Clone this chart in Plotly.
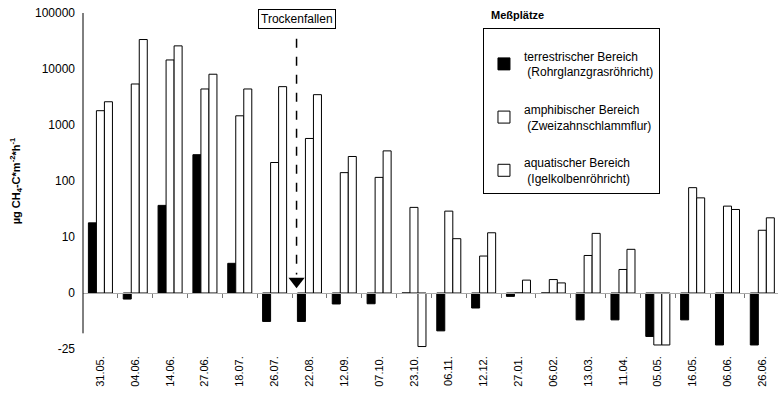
import math
import plotly.graph_objects as go

# ---------------- data ----------------
dates = ["31.05.", "04.06.", "14.06.", "27.06.", "18.07.", "26.07.", "22.08.", "12.09.",
         "07.10.", "23.10.", "06.11.", "12.12.", "27.01.", "06.02.", "13.03.", "11.04.",
         "05.05.", "16.05.", "06.06.", "26.06."]

terrestrisch = [17.9, -2.7, 36.7, 295, 5.3, -12.7, -12.7, -4.9, -4.8, 0, -16.9, -6.7,
                -1.5, 0, -12, -12, -19.4, -12, -23.2, -23.2]
amphibisch = [1800, 5400, 14500, 4400, 1460, 214, 575, 141, 116, 33.8, 29, 6.6,
              0, 2.4, 6.7, 4.2, -23.2, 76, 35.6, 13.2]
aquatisch = [2600, 33600, 25900, 8070, 4400, 4840, 3480, 274, 345, -23.9, 9.7, 11.9,
             2.3, 1.8, 11.6, 7.8, -23.2, 50, 31, 22]

series_names = ["terrestrischer Bereich<br> (Rohrglanzgrasröhricht)",
                "amphibischer Bereich<br> (Zweizahnschlammflur)",
                "aquatischer Bereich<br> (Igelkolbenröhricht)"]
series_fill = ["black", "white", "white"]

tick_values = [-25, 0, 10, 100, 1000, 10000, 100000]
tick_labels = ["-25", "0", "10", "100", "1000", "10000", "100000"]

dry_fall_pos = 5.63          # "Trockenfallen" between 26.07. and 22.08.
dry_fall_label = "Trockenfallen"


# axis transform used in the original: log above 10, linear 0..10, linear 0..-25
def tf(v):
    if v >= 10:
        return math.log10(v)
    if v >= 0:
        return v / 10.0
    return v / 25.0


FONT = "Arial, Liberation Sans, sans-serif"
xs = list(range(len(dates)))

fig = go.Figure()
for name, vals, fill in zip(series_names, [terrestrisch, amphibisch, aquatisch], series_fill):
    fig.add_trace(go.Bar(
        x=xs, y=[tf(v) for v in vals], name=name, legendgroup=name,
        marker=dict(color=fill, line=dict(color="black", width=1)),
        hoverinfo="skip",
    ))

# arrowhead of the drying marker (on the zero-line axis)
fig.add_trace(go.Scatter(
    x=[dry_fall_pos], y=[0.21], xaxis="x2", mode="markers",
    marker=dict(symbol="triangle-down", size=14, color="black"),
    showlegend=False, hoverinfo="skip",
))

fig.update_layout(
    width=778, height=393,
    margin=dict(l=83, r=0, t=13, b=44),
    paper_bgcolor="white", plot_bgcolor="white",
    font=dict(family=FONT, size=11, color="black"),
    barmode="group", bargap=0.31, bargroupgap=0,
    xaxis=dict(
        range=[-0.5, 19.45], tickmode="array", tickvals=xs, ticktext=dates,
        tickangle=-90, showgrid=False, zeroline=False, showline=False, ticks="",
        tickfont=dict(size=11), ticklabelstandoff=4,
    ),
    xaxis2=dict(
        matches="x", overlaying="x", anchor="free", position=1 / 6,
        showline=True, linecolor="#aaaaaa", linewidth=1,
        tickmode="array", tickvals=[i + 0.5 for i in xs[:-1]], ticks="outside",
        ticklen=4, tickcolor="#777777", showticklabels=False, showgrid=False,
        zeroline=False,
    ),
    yaxis=dict(
        range=[-1, 5], tickmode="array", tickvals=[tf(v) for v in tick_values],
        ticktext=tick_labels, showgrid=False, zeroline=False, showline=False,
        ticks="", tickfont=dict(size=12), ticklabelstandoff=7,
        title=dict(text="<b>µg CH<sub>4</sub>-C*m<sup>-2</sup>*h<sup>-1</sup></b>",
                   font=dict(size=11), standoff=12),
    ),
    legend=dict(
        x=0.5755, y=0.956, xanchor="left", yanchor="top",
        bordercolor="black", borderwidth=1, bgcolor="white",
        font=dict(size=12), tracegroupgap=19, traceorder="grouped",
        itemwidth=30, title=dict(text=" ", font=dict(size=10)),
    ),
    showlegend=True,
)

# y axis line (ends above the -25 label as in the original)
fig.add_shape(type="line", xref="paper", yref="y", x0=0, x1=0, y0=-0.72, y1=5,
              line=dict(color="black", width=1))
# dashed drying line
fig.add_shape(type="line", xref="x", yref="y", x0=dry_fall_pos, x1=dry_fall_pos,
              y0=4.54, y1=0.33, line=dict(color="black", width=1.5, dash="dash"))

fig.add_annotation(x=dry_fall_pos, y=4.89, xref="x", yref="y", text=dry_fall_label,
                   showarrow=False, bordercolor="black", borderwidth=1, borderpad=2,
                   bgcolor="white", font=dict(size=12))
fig.add_annotation(x=0.584, y=0.995, xref="paper", yref="paper", xanchor="left",
                   yanchor="middle", text="<b>Meßplätze</b>", showarrow=False,
                   font=dict(size=11))

fig.write_html("out.html")
